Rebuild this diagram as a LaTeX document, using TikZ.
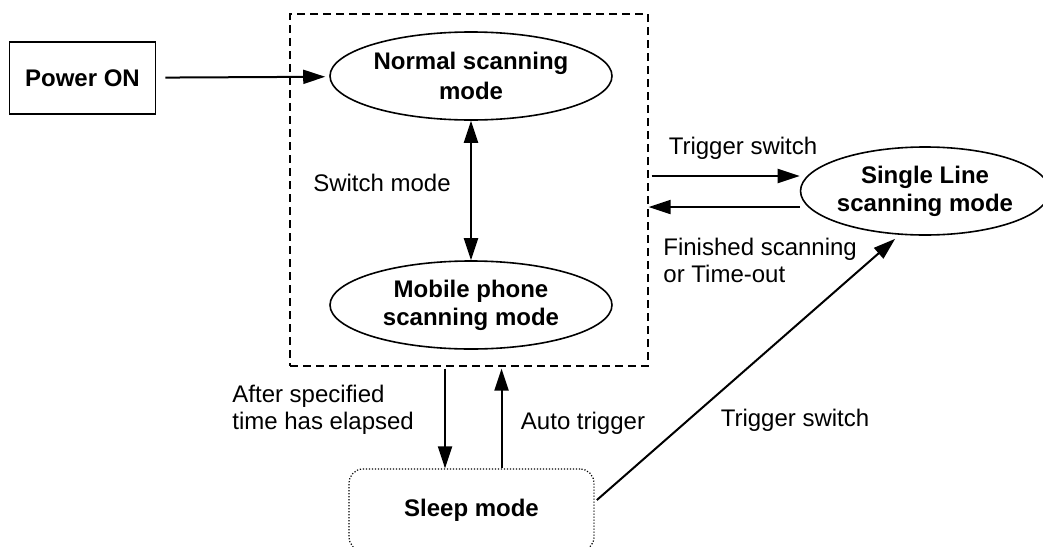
\documentclass[tikz,border=0pt]{standalone}
\usepackage{fontspec}
\setmainfont{Liberation Sans}
\usetikzlibrary{shapes.geometric}
\usetikzlibrary{arrows.meta}
\tikzset{
    mode/.style={draw, ellipse, line width=0.8pt, inner sep=0pt, align=center,
             font=\fontsize{12}{14}\selectfont\bfseries},
    startbox/.style={draw, rectangle, line width=0.8pt, inner sep=0pt,
             font=\fontsize{12}{14}\selectfont\bfseries},
    groupbox/.style={draw, rectangle, line width=0.6pt, inner sep=0pt,
             dash pattern=on 4pt off 2.5pt},
    sleepbox/.style={draw, rectangle, rounded corners=7pt, line width=0.6pt, inner sep=0pt,
             dash pattern=on 0.6pt off 0.9pt, font=\fontsize{12}{14}\selectfont\bfseries},
    arr/.style={draw, line width=1pt, -{Triangle[length=11pt,width=7pt]}},
    dblarr/.style={draw, line width=1pt, {Triangle[length=11pt,width=7pt]}-{Triangle[length=11pt,width=7pt]}},
    lbl/.style={inner sep=0pt, align=left, font=\fontsize{12}{13.5}\selectfont}
  }

\begin{document}
\begin{tikzpicture}[x=0.5pt, y=-0.5pt]
 \useasboundingbox (0,0) rectangle (1043,546);
 %Dashed group
     \node[groupbox, minimum width=179pt, minimum height=176pt] (group) at (469,190) {};
 %Start
     \node[startbox, minimum width=73pt, minimum height=36pt] (power) at (82.5,78) {Power ON};
 %Modes
     \node[mode, minimum width=141pt, minimum height=44pt, font=\fontsize{12}{15}\selectfont\bfseries] (normal) at (471,76) {Normal scanning\\mode};
     \node[mode, minimum width=141pt, minimum height=44pt] (mobile) at (471,305) {Mobile phone\\scanning mode};
     \node[mode, minimum width=117pt, minimum height=44pt] (single) at (925,191) {Single Line\\scanning mode};
     \node[sleepbox, minimum width=122.5pt, minimum height=41pt] (sleep) at (471.5,510) {Sleep mode};
 %Power on
     \draw[arr, shorten <=4.5pt, shorten >=2pt] (power) -- (normal);
 %Switch mode
     \draw[dblarr] (normal.south) -- (mobile.north);
     \node[lbl] (switchlbl) at (382,183) {Switch mode};
 %Trigger switch and return
     \draw[arr, shorten <=1.5pt] ([yshift=7pt]group.east) -- ([yshift=7pt]group.east -| single.west);
     \draw[arr] ([yshift=-8pt]single.west) -- ([yshift=-8pt]single.west -| group.east);
     \node[lbl] (triglbl) at (743,148) {Trigger switch};
     \node[lbl, anchor=west] (finlbl) at (663,260) {Finished scanning\\or Time-out};
 %Sleep
     \draw[arr, shorten <=1pt] ([xshift=-12pt]group.south) -- ([xshift=-12pt]group.south |- sleep.north);
     \draw[arr, shorten >=1pt] ([xshift=15pt]sleep.north) -- ([xshift=15pt]sleep.north |- group.south);
     \node[lbl, anchor=west] (afterlbl) at (232,410) {After specified\\time has elapsed};
     \node[lbl] (autolbl) at (583,423) {Auto trigger};
 %Sleep to single line
     \draw[arr, shorten <=1.5pt, shorten >=3pt] ([yshift=4pt]sleep.east) -- (single.240);
     \node[lbl] (trig2lbl) at (795,420) {Trigger switch};
 \end{tikzpicture}
\end{document}
